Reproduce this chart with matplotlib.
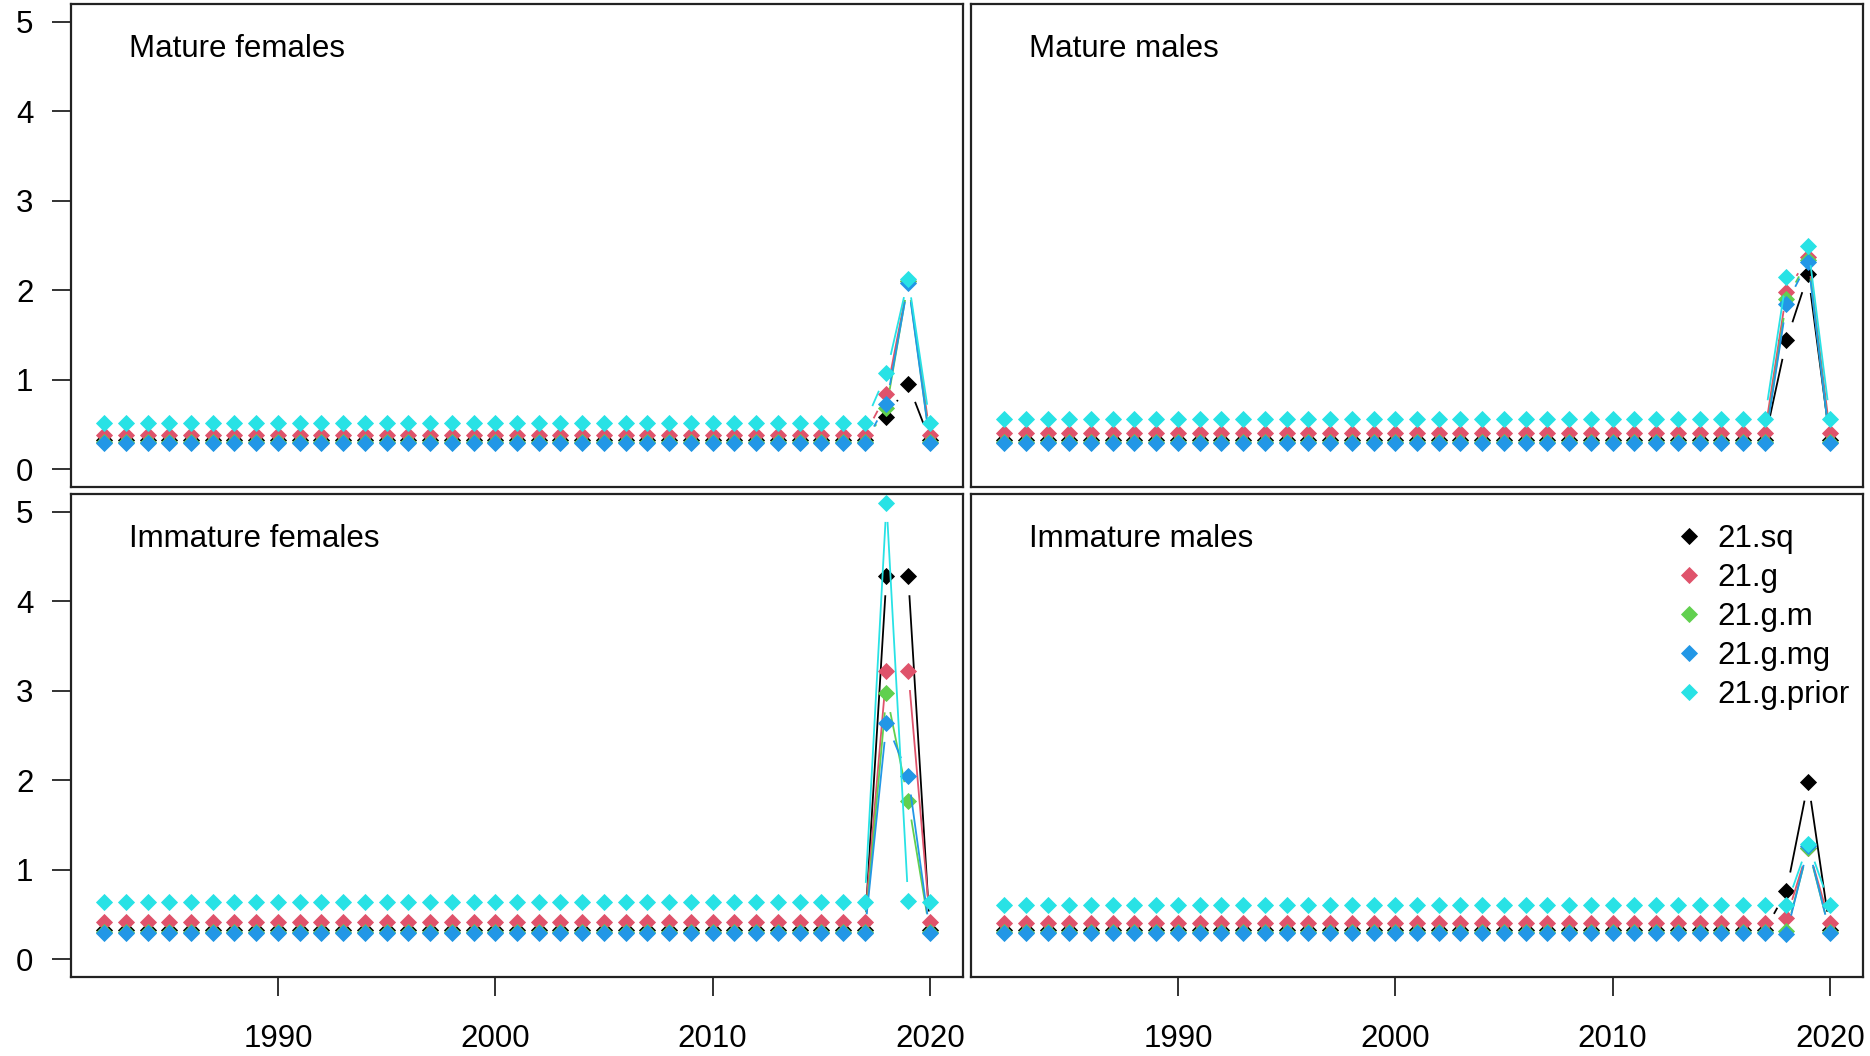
import numpy as np
import matplotlib
matplotlib.use("Agg")
import matplotlib.pyplot as plt
from matplotlib.lines import Line2D

plt.rcParams['font.family'] = ['Liberation Sans', 'DejaVu Sans']
plt.rcParams['font.size'] = 22.5

years = list(range(1982, 2021))
runs = ['21.sq', '21.g', '21.g.m', '21.g.mg', '21.g.prior']
colors = ['#000000', '#DF536B', '#61D04F', '#2297E6', '#28E2E5']
panel_names = ['Mature females', 'Mature males', 'Immature females', 'Immature males']

# mature females
mf_sq = [0.32, 0.32, 0.32, 0.32, 0.32, 0.32, 0.32, 0.32, 0.32, 0.32, 0.32, 0.32, 0.32,
         0.32, 0.32, 0.32, 0.32, 0.32, 0.32, 0.32, 0.32, 0.32, 0.32, 0.32, 0.32, 0.32,
         0.32, 0.32, 0.32, 0.32, 0.32, 0.32, 0.32, 0.32, 0.32, 0.32, 0.58, 0.95, 0.32]
mf_g = [0.38, 0.38, 0.38, 0.38, 0.38, 0.38, 0.38, 0.38, 0.38, 0.38, 0.38, 0.38, 0.38,
        0.38, 0.38, 0.38, 0.38, 0.38, 0.38, 0.38, 0.38, 0.38, 0.38, 0.38, 0.38, 0.38,
        0.38, 0.38, 0.38, 0.38, 0.38, 0.38, 0.38, 0.38, 0.38, 0.38, 0.84, 2.10, 0.38]
mf_gm = [0.30, 0.30, 0.30, 0.30, 0.30, 0.30, 0.30, 0.30, 0.30, 0.30, 0.30, 0.30, 0.30,
         0.30, 0.30, 0.30, 0.30, 0.30, 0.30, 0.30, 0.30, 0.30, 0.30, 0.30, 0.30, 0.30,
         0.30, 0.30, 0.30, 0.30, 0.30, 0.30, 0.30, 0.30, 0.30, 0.30, 0.68, 2.10, 0.30]
mf_gmg = [0.29, 0.29, 0.29, 0.29, 0.29, 0.29, 0.29, 0.29, 0.29, 0.29, 0.29, 0.29, 0.29,
          0.29, 0.29, 0.29, 0.29, 0.29, 0.29, 0.29, 0.29, 0.29, 0.29, 0.29, 0.29, 0.29,
          0.29, 0.29, 0.29, 0.29, 0.29, 0.29, 0.29, 0.29, 0.29, 0.29, 0.73, 2.08, 0.29]
mf_prior = [0.51, 0.51, 0.51, 0.51, 0.51, 0.51, 0.51, 0.51, 0.51, 0.51, 0.51, 0.51, 0.51,
            0.51, 0.51, 0.51, 0.51, 0.51, 0.51, 0.51, 0.51, 0.51, 0.51, 0.51, 0.51, 0.51,
            0.51, 0.51, 0.51, 0.51, 0.51, 0.51, 0.51, 0.51, 0.51, 0.51, 1.07, 2.13, 0.51]

# mature males
mm_sq = [0.32, 0.32, 0.32, 0.32, 0.32, 0.32, 0.32, 0.32, 0.32, 0.32, 0.32, 0.32, 0.32,
         0.32, 0.32, 0.32, 0.32, 0.32, 0.32, 0.32, 0.32, 0.32, 0.32, 0.32, 0.32, 0.32,
         0.32, 0.32, 0.32, 0.32, 0.32, 0.32, 0.32, 0.32, 0.32, 0.32, 1.44, 2.18, 0.32]
mm_g = [0.40, 0.40, 0.40, 0.40, 0.40, 0.40, 0.40, 0.40, 0.40, 0.40, 0.40, 0.40, 0.40,
        0.40, 0.40, 0.40, 0.40, 0.40, 0.40, 0.40, 0.40, 0.40, 0.40, 0.40, 0.40, 0.40,
        0.40, 0.40, 0.40, 0.40, 0.40, 0.40, 0.40, 0.40, 0.40, 0.40, 1.98, 2.37, 0.40]
mm_gm = [0.30, 0.30, 0.30, 0.30, 0.30, 0.30, 0.30, 0.30, 0.30, 0.30, 0.30, 0.30, 0.30,
         0.30, 0.30, 0.30, 0.30, 0.30, 0.30, 0.30, 0.30, 0.30, 0.30, 0.30, 0.30, 0.30,
         0.30, 0.30, 0.30, 0.30, 0.30, 0.30, 0.30, 0.30, 0.30, 0.30, 1.90, 2.34, 0.30]
mm_gmg = [0.29, 0.29, 0.29, 0.29, 0.29, 0.29, 0.29, 0.29, 0.29, 0.29, 0.29, 0.29, 0.29,
          0.29, 0.29, 0.29, 0.29, 0.29, 0.29, 0.29, 0.29, 0.29, 0.29, 0.29, 0.29, 0.29,
          0.29, 0.29, 0.29, 0.29, 0.29, 0.29, 0.29, 0.29, 0.29, 0.29, 1.85, 2.32, 0.29]
mm_prior = [0.56, 0.56, 0.56, 0.56, 0.56, 0.56, 0.56, 0.56, 0.56, 0.56, 0.56, 0.56, 0.56,
            0.56, 0.56, 0.56, 0.56, 0.56, 0.56, 0.56, 0.56, 0.56, 0.56, 0.56, 0.56, 0.56,
            0.56, 0.56, 0.56, 0.56, 0.56, 0.56, 0.56, 0.56, 0.56, 0.56, 2.15, 2.49, 0.56]

# immature females
if_sq = [0.32, 0.32, 0.32, 0.32, 0.32, 0.32, 0.32, 0.32, 0.32, 0.32, 0.32, 0.32, 0.32,
         0.32, 0.32, 0.32, 0.32, 0.32, 0.32, 0.32, 0.32, 0.32, 0.32, 0.32, 0.32, 0.32,
         0.32, 0.32, 0.32, 0.32, 0.32, 0.32, 0.32, 0.32, 0.32, 0.32, 4.28, 4.28, 0.32]
if_g = [0.42, 0.42, 0.42, 0.42, 0.42, 0.42, 0.42, 0.42, 0.42, 0.42, 0.42, 0.42, 0.42,
        0.42, 0.42, 0.42, 0.42, 0.42, 0.42, 0.42, 0.42, 0.42, 0.42, 0.42, 0.42, 0.42,
        0.42, 0.42, 0.42, 0.42, 0.42, 0.42, 0.42, 0.42, 0.42, 0.42, 3.22, 3.22, 0.42]
if_gm = [0.30, 0.30, 0.30, 0.30, 0.30, 0.30, 0.30, 0.30, 0.30, 0.30, 0.30, 0.30, 0.30,
         0.30, 0.30, 0.30, 0.30, 0.30, 0.30, 0.30, 0.30, 0.30, 0.30, 0.30, 0.30, 0.30,
         0.30, 0.30, 0.30, 0.30, 0.30, 0.30, 0.30, 0.30, 0.30, 0.30, 2.97, 1.77, 0.30]
if_gmg = [0.29, 0.29, 0.29, 0.29, 0.29, 0.29, 0.29, 0.29, 0.29, 0.29, 0.29, 0.29, 0.29,
          0.29, 0.29, 0.29, 0.29, 0.29, 0.29, 0.29, 0.29, 0.29, 0.29, 0.29, 0.29, 0.29,
          0.29, 0.29, 0.29, 0.29, 0.29, 0.29, 0.29, 0.29, 0.29, 0.29, 2.64, 2.05, 0.29]
if_prior = [0.64, 0.64, 0.64, 0.64, 0.64, 0.64, 0.64, 0.64, 0.64, 0.64, 0.64, 0.64, 0.64,
            0.64, 0.64, 0.64, 0.64, 0.64, 0.64, 0.64, 0.64, 0.64, 0.64, 0.64, 0.64, 0.64,
            0.64, 0.64, 0.64, 0.64, 0.64, 0.64, 0.64, 0.64, 0.64, 0.64, 5.10, 0.65, 0.64]

# immature males
im_sq = [0.32, 0.32, 0.32, 0.32, 0.32, 0.32, 0.32, 0.32, 0.32, 0.32, 0.32, 0.32, 0.32,
         0.32, 0.32, 0.32, 0.32, 0.32, 0.32, 0.32, 0.32, 0.32, 0.32, 0.32, 0.32, 0.32,
         0.32, 0.32, 0.32, 0.32, 0.32, 0.32, 0.32, 0.32, 0.32, 0.32, 0.76, 1.98, 0.32]
im_g = [0.40, 0.40, 0.40, 0.40, 0.40, 0.40, 0.40, 0.40, 0.40, 0.40, 0.40, 0.40, 0.40,
        0.40, 0.40, 0.40, 0.40, 0.40, 0.40, 0.40, 0.40, 0.40, 0.40, 0.40, 0.40, 0.40,
        0.40, 0.40, 0.40, 0.40, 0.40, 0.40, 0.40, 0.40, 0.40, 0.40, 0.46, 1.24, 0.40]
im_gm = [0.30, 0.30, 0.30, 0.30, 0.30, 0.30, 0.30, 0.30, 0.30, 0.30, 0.30, 0.30, 0.30,
         0.30, 0.30, 0.30, 0.30, 0.30, 0.30, 0.30, 0.30, 0.30, 0.30, 0.30, 0.30, 0.30,
         0.30, 0.30, 0.30, 0.30, 0.30, 0.30, 0.30, 0.30, 0.30, 0.30, 0.31, 1.24, 0.30]
im_gmg = [0.29, 0.29, 0.29, 0.29, 0.29, 0.29, 0.29, 0.29, 0.29, 0.29, 0.29, 0.29, 0.29,
          0.29, 0.29, 0.29, 0.29, 0.29, 0.29, 0.29, 0.29, 0.29, 0.29, 0.29, 0.29, 0.29,
          0.29, 0.29, 0.29, 0.29, 0.29, 0.29, 0.29, 0.29, 0.29, 0.29, 0.28, 1.26, 0.29]
im_prior = [0.60, 0.60, 0.60, 0.60, 0.60, 0.60, 0.60, 0.60, 0.60, 0.60, 0.60, 0.60, 0.60,
            0.60, 0.60, 0.60, 0.60, 0.60, 0.60, 0.60, 0.60, 0.60, 0.60, 0.60, 0.60, 0.60,
            0.60, 0.60, 0.60, 0.60, 0.60, 0.60, 0.60, 0.60, 0.60, 0.60, 0.60, 1.29, 0.60]

panel_data = [
    [mf_sq, mf_g, mf_gm, mf_gmg, mf_prior],
    [mm_sq, mm_g, mm_gm, mm_gmg, mm_prior],
    [if_sq, if_g, if_gm, if_gmg, if_prior],
    [im_sq, im_g, im_gm, im_gmg, im_prior],
]

W, H = 1870, 1056
fig = plt.figure(figsize=(W / 100, H / 100), dpi=100)

# panel boxes in pixels: (left, top, right, bottom)
boxes = [(71, 4, 963, 487), (971, 4, 1863, 487),
         (71, 494, 963, 977), (971, 494, 1863, 977)]

GAP = 19  # px gap around points, like R type="b"
MS = 8.6


def b_line(ax, x, y, col, z):
    # lines with gaps around the points, then the points
    pts = ax.transData.transform(np.column_stack([x, y]))
    inv = ax.transData.inverted()
    for p0, p1 in zip(pts[:-1], pts[1:]):
        d = p1 - p0
        L = np.hypot(d[0], d[1])
        if L > 2 * GAP:
            u = d / L
            a = inv.transform(p0 + u * GAP)
            b = inv.transform(p1 - u * GAP)
            ax.plot([a[0], b[0]], [a[1], b[1]], color=col, lw=1.3, zorder=z,
                    solid_capstyle='butt')
    ax.plot(x, y, ls='none', marker='D', ms=MS, mew=0.6, mec=col, color=col,
            zorder=z + 0.5)


axes = []
for i, (l, t, r, b) in enumerate(boxes):
    ax = fig.add_axes([l / W, 1 - b / H, (r - l) / W, (b - t) / H])
    ax.set_xlim(1980.48, 2021.52)
    ax.set_ylim(-0.2, 5.2)
    for s in ax.spines.values():
        s.set_linewidth(1.6)
        s.set_color('#222222')
    ax.tick_params(length=14, width=1.3, color='#222222')
    ax.tick_params(axis='x', pad=19.5)
    ax.tick_params(axis='y', pad=13)
    ax.set_xticks([1990, 2000, 2010, 2020])
    ax.set_yticks([0, 1, 2, 3, 4, 5])
    if i < 2:
        ax.tick_params(axis='x', bottom=False, labelbottom=False)
    if i % 2 == 1:
        ax.tick_params(axis='y', left=False, labelleft=False)
    for k, ser in enumerate(panel_data[i]):
        b_line(ax, years, ser, colors[k], 2 + k)
    ax.text(58 / (r - l), 1 - 53 / (b - t), panel_names[i], transform=ax.transAxes,
            ha='left', va='baseline')
    axes.append(ax)

handles = [Line2D([], [], ls='none', marker='D', ms=MS, mew=0.6, mec=c, color=c)
           for c in colors]
leg = axes[3].legend(handles, runs, loc='upper left',
                     bbox_to_anchor=(1673 / W, 1 - 524 / H), bbox_transform=fig.transFigure,
                     frameon=False, handlelength=1.0, handletextpad=0.42,
                     labelspacing=0.29, borderpad=0, borderaxespad=0)

fig.savefig('out.png', dpi=100)
